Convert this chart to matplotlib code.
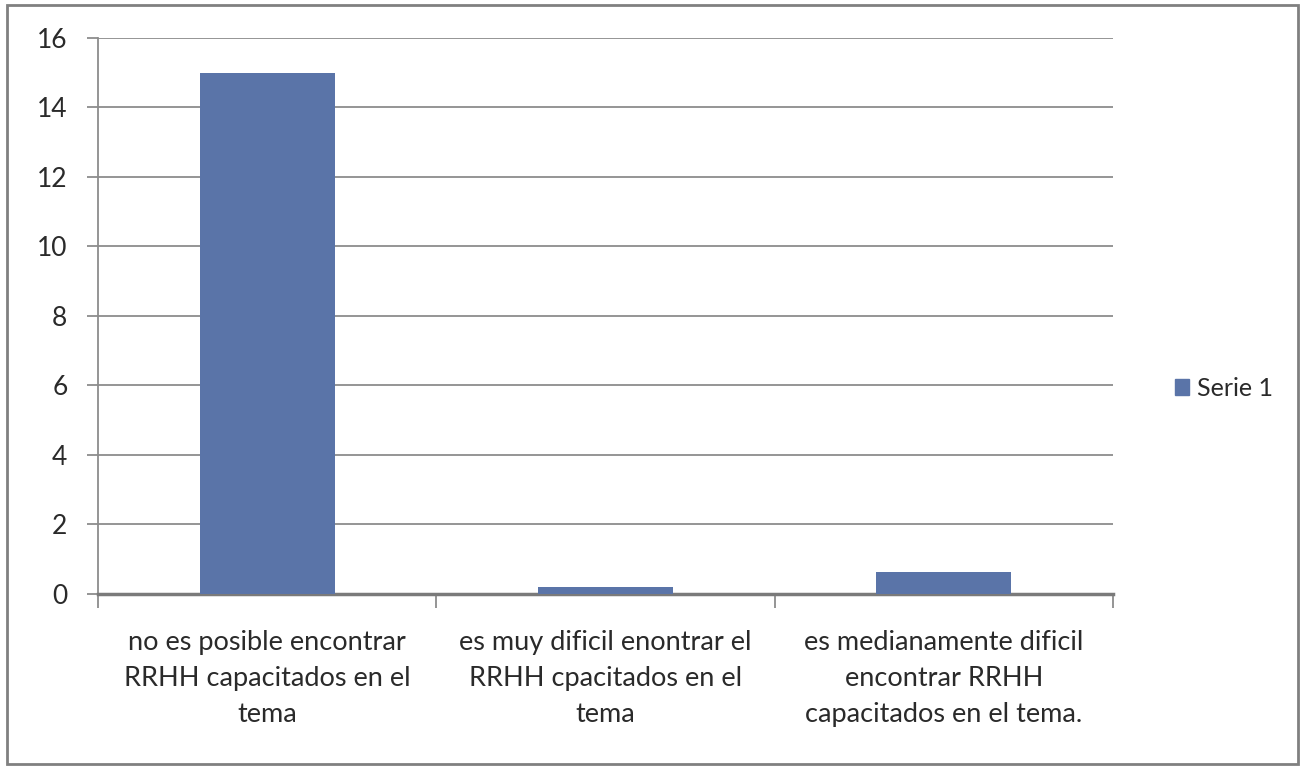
import matplotlib
matplotlib.use("Agg")
import matplotlib.pyplot as plt
from matplotlib.patches import Rectangle, Patch

# ---------- DATA ----------
categories = [
    "no es posible encontrar\nRRHH capacitados en el\ntema",
    "es muy dificil enontrar el\nRRHH cpacitados en el\ntema",
    "es medianamente dificil\nencontrar RRHH\ncapacitados en el tema.",
]
serie1 = [15, 0.2, 0.63]
yticks = [0, 2, 4, 6, 8, 10, 12, 14, 16]

bar_color = "#5a74a8"
grid_color = "#8c8c8c"
text_color = "#2a2a2a"

plt.rcParams["font.family"] = ["Lato", "DejaVu Sans"]

# ---------- PLOT ----------
fig = plt.figure(figsize=(13.02, 7.69), dpi=100)
ax = fig.add_axes([0.0753, 0.2276, 0.7795, 0.723])

x = range(len(categories))
ax.bar(x, serie1, width=0.4, color=bar_color, zorder=3, label="Serie 1")

ax.set_xlim(-0.5, len(categories) - 0.5)
ax.set_ylim(0, 16)
ax.set_yticks(yticks)
ax.set_yticklabels([str(v) for v in yticks], fontsize=19, color=text_color)
ax.yaxis.grid(True, color=grid_color, lw=1.3, zorder=0)

ax.set_xticks([i - 0.5 for i in range(len(categories) + 1)])
ax.set_xticklabels([])
ax.set_xticks(list(x), minor=True)
ax.set_xticklabels(categories, minor=True, fontsize=19.5, color=text_color, linespacing=1.55)
ax.tick_params(axis="x", which="minor", length=0, pad=26)
ax.tick_params(axis="x", which="major", length=10, width=1.3, color=grid_color)
ax.tick_params(axis="y", length=8, width=1.3, color=grid_color, pad=14)

for s in ["top", "right"]:
    ax.spines[s].set_visible(False)
ax.spines["left"].set_color(grid_color)
ax.spines["left"].set_linewidth(1.3)
ax.spines["bottom"].set_color("#7a7a7a")
ax.spines["bottom"].set_linewidth(2.5)

leg = fig.legend(handles=[Patch(color=bar_color, label="Serie 1")],
                 loc="center left", bbox_to_anchor=(0.885, 0.495),
                 frameon=False, fontsize=18, handlelength=0.55, handleheight=0.55,
                 handletextpad=0.35)
for t in leg.get_texts():
    t.set_color(text_color)

# outer chart border
fig.patches.append(Rectangle((0.005, 0.006), 0.992, 0.988, transform=fig.transFigure,
                             fill=False, edgecolor="#808080", lw=2))

fig.savefig("out.png", dpi=100)
